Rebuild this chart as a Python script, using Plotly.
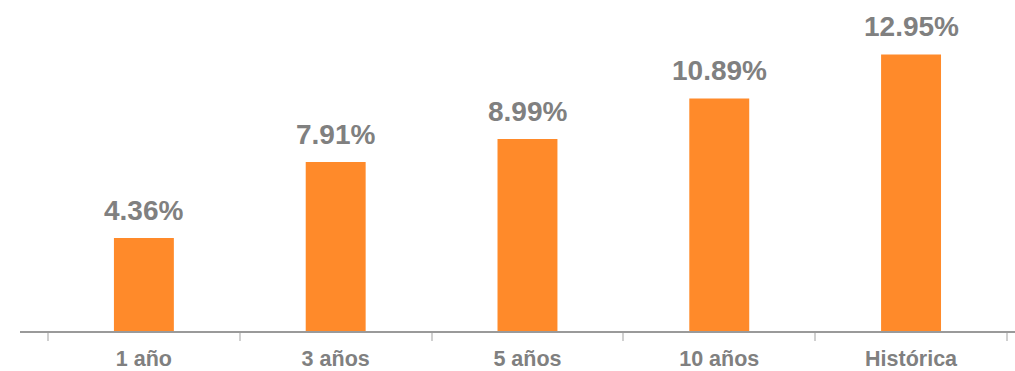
import plotly.graph_objects as go

# Rentabilidad anualizada por horizonte
categorias = ["1 año", "3 años", "5 años", "10 años", "Histórica"]
rentabilidad = [4.36, 7.91, 8.99, 10.89, 12.95]
etiquetas = [f"{v:.2f}%" for v in rentabilidad]

naranja = "#FF8A2A"
gris_texto = "#808080"

fig = go.Figure(
    go.Bar(
        x=categorias,
        y=rentabilidad,
        marker=dict(color=naranja, line=dict(width=0)),
        width=0.3125,
        hoverinfo="skip",
    )
)

# Valores encima de cada barra
for cat, val, txt in zip(categorias, rentabilidad, etiquetas):
    fig.add_annotation(
        x=cat, y=val, text=txt, showarrow=False,
        yanchor="bottom", yshift=10,
        font=dict(family="Liberation Sans, Arial", size=28, color=gris_texto, weight="bold"),
    )

fig.update_layout(
    width=1015, height=371,
    margin=dict(l=20, r=0, t=0, b=40),
    paper_bgcolor="white", plot_bgcolor="white",
    showlegend=False,
    font=dict(family="Liberation Sans, Arial"),
)
fig.update_xaxes(
    range=[-0.646, 4.542],
    automargin=False,
    showline=True, linecolor="#9a9a9a", linewidth=1.5,
    tickson="boundaries", ticks="outside", ticklen=8, tickcolor="#d0d0d0", tickwidth=1.5,
    ticklabelstandoff=7,
    showgrid=False, zeroline=False,
    tickfont=dict(family="Liberation Sans, Arial", size=21.5, color=gris_texto, weight="bold"),
)
fig.update_yaxes(range=[0, 15.5], visible=False, showgrid=False, zeroline=False)

fig.write_html("out.html")
